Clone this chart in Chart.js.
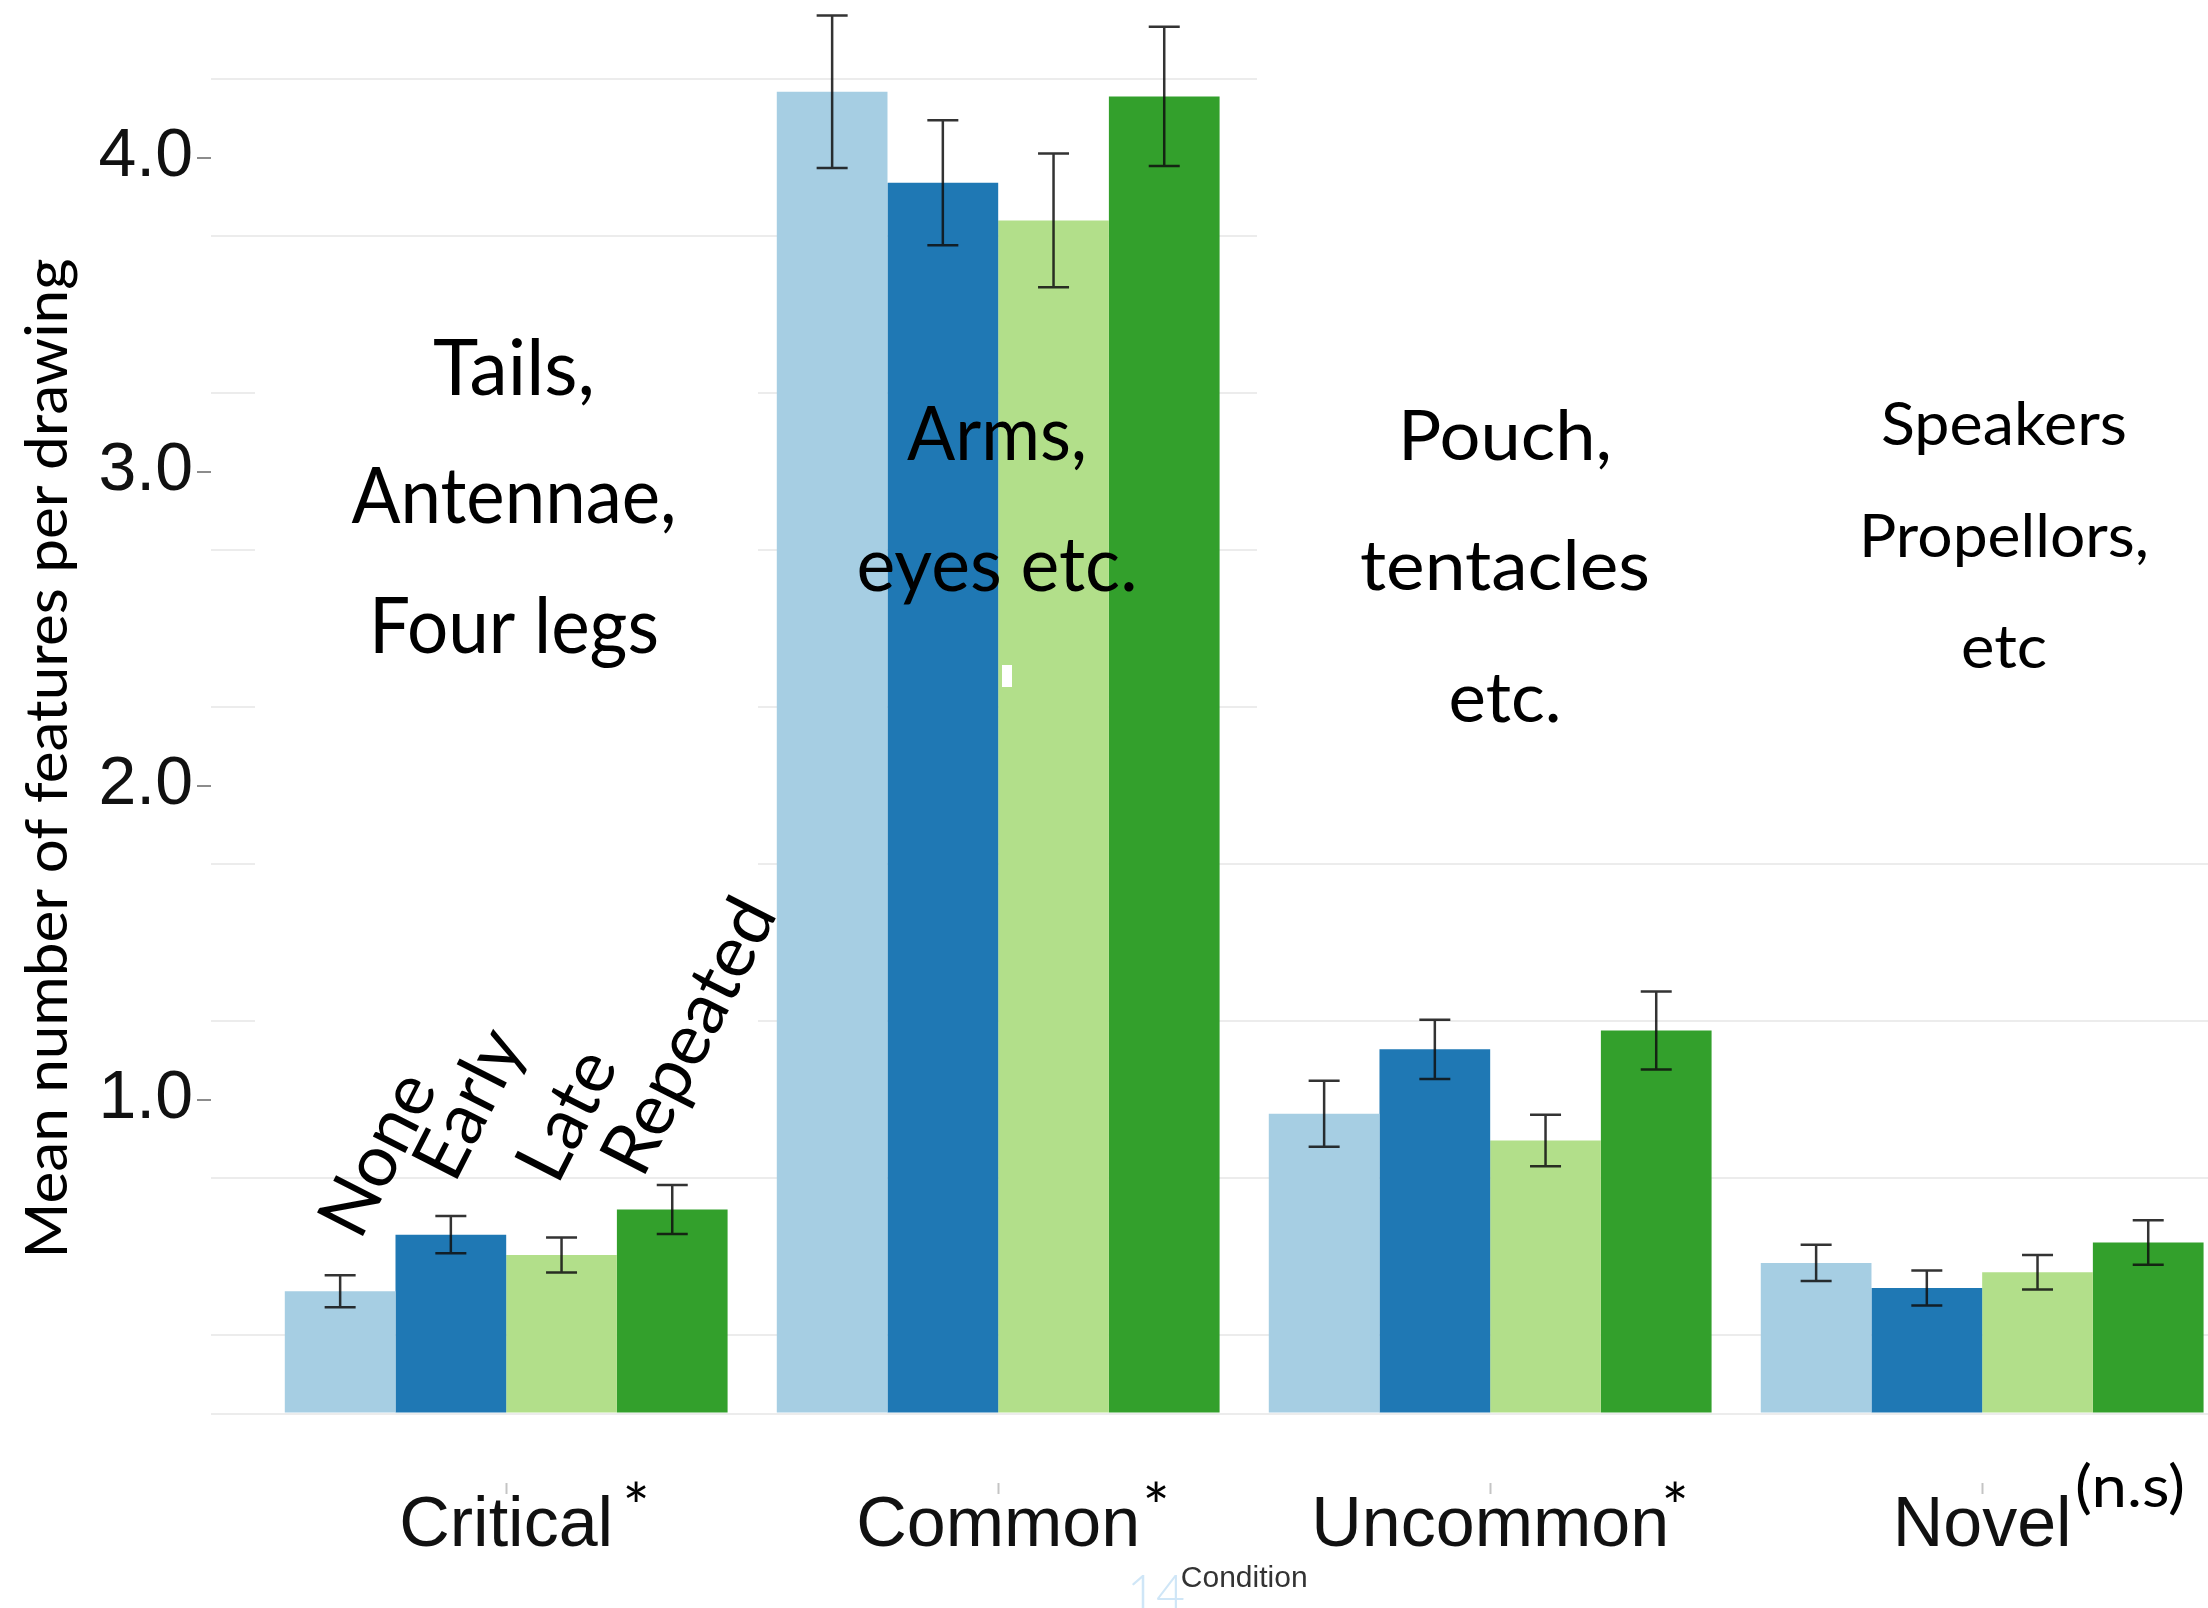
<!DOCTYPE html>
<html>
<head>
<meta charset="utf-8">
<script src="https://cdn.jsdelivr.net/npm/chart.js@4.4.1/dist/chart.umd.min.js"></script>
<style>
  html, body { margin: 0; padding: 0; background: #ffffff; overflow: hidden; }
  canvas { display: block; }
</style>
</head>
<body>
<canvas id="chart" width="2208" height="1608"></canvas>
<script>
// Feature categories on the x axis and the significance mark shown beside each
const categories = ['Critical', 'Common', 'Uncommon', 'Novel'];
const significance = ['*', '*', '*', '(n.s)'];

// Example-timing conditions (one bar per condition in every category)
const conditions = ['None', 'Early', 'Late', 'Repeated'];

// Mean number of features per drawing
const noneMean     = [0.39, 4.21, 0.955, 0.48];
const earlyMean    = [0.57, 3.92, 1.16, 0.40];
const lateMean     = [0.505, 3.80, 0.87, 0.45];
const repeatedMean = [0.65, 4.195, 1.22, 0.545];

// Standard errors (half height of each error bar)
const noneSE     = [0.051, 0.243, 0.105, 0.058];
const earlySE    = [0.059, 0.199, 0.094, 0.056];
const lateSE     = [0.056, 0.213, 0.082, 0.055];
const repeatedSE = [0.078, 0.222, 0.124, 0.071];

// Labelled y ticks and the faint horizontal guide lines
const yTickValues = [1, 2, 3, 4];
const gridValues  = [0, 0.25, 0.75, 1.25, 1.75, 2.25, 2.75, 3.25, 3.75, 4.25];

// Example features written over each category
const featureNotes = [
  ['Tails,', 'Antennae,', 'Four legs'],
  ['Arms,', 'eyes etc.'],
  ['Pouch,', 'tentacles', 'etc.'],
  ['Speakers', 'Propellors,', 'etc']
];

const axisTitle = 'Condition';
const yTitle = 'Mean number of features per drawing';
const pageNumber = '14';

const means = [noneMean, earlyMean, lateMean, repeatedMean];
const errors = [noneSE, earlySE, lateSE, repeatedSE];
const colors = ['#a6cee3', '#1f78b4', '#b2df8a', '#33a02c'];

const datasets = conditions.map((name, d) => ({
  label: name,
  data: categories.map((_, i) => ({ x: i, y: means[d][i] })),
  errors: errors[d],
  backgroundColor: colors[d],
  borderWidth: 0,
  categoryPercentage: 0.9,
  barPercentage: 1.0
}));

const tickStops = [...new Set([...gridValues, ...yTickValues])].sort((a, b) => a - b);

// Text layout for the notes: centre x, font size, and [baseline y, width] per line
const noteLayout = [
  { x: 514,  size: 77, lines: [[395, 162], [523, 325], [653, 290]] },
  { x: 997,  size: 75, lines: [[460, 180], [591, 281]] },
  { x: 1505, size: 70, lines: [[460, 214], [590, 290], [722, 113]] },
  { x: 2004, size: 60, lines: [[445, 246], [557, 290], [668, 86]] }
];
// White backing boxes behind the opaque note text frames [x, y, w, h]
const noteBoxes = [
  [255, 250, 503, 850],
  [1257, 0, 951, 788]
];
const conditionLabelPos = [[380, 1155], [471, 1105], [569, 1116], [691, 1037]];
const NOTE_FONT = 'Lato';

function fitText(ctx, text, x, y, size, width, align) {
  ctx.font = size + 'px ' + NOTE_FONT;
  const w = ctx.measureText(text).width;
  ctx.save();
  ctx.translate(x, y);
  if (width) ctx.scale(width / w, 1);
  ctx.textAlign = align || 'center';
  ctx.textBaseline = 'alphabetic';
  ctx.fillText(text, 0, 0);
  ctx.restore();
}

const noteBoxPlugin = {
  id: 'noteBoxes',
  beforeDatasetsDraw(chart) {
    const { ctx } = chart;
    ctx.save();
    ctx.fillStyle = '#ffffff';
    noteBoxes.forEach(([x, y, w, h]) => ctx.fillRect(x, y, w, h));
    ctx.restore();
  }
};

const errorBarPlugin = {
  id: 'errorBars',
  afterDatasetsDraw(chart) {
    const { ctx } = chart;
    const y = chart.scales.y;
    ctx.save();
    ctx.strokeStyle = 'rgba(15,15,15,0.85)';
    ctx.lineWidth = 2.5;
    chart.data.datasets.forEach((ds, d) => {
      chart.getDatasetMeta(d).data.forEach((bar, i) => {
        const v = ds.data[i].y, e = ds.errors[i];
        const top = y.getPixelForValue(v + e);
        const bot = y.getPixelForValue(v - e);
        const half = 15.5;
        ctx.beginPath();
        ctx.moveTo(bar.x, top); ctx.lineTo(bar.x, bot);
        ctx.moveTo(bar.x - half, top); ctx.lineTo(bar.x + half, top);
        ctx.moveTo(bar.x - half, bot); ctx.lineTo(bar.x + half, bot);
        ctx.stroke();
      });
    });
    ctx.restore();
  }
};

const textPlugin = {
  id: 'notes',
  afterDraw(chart) {
    const { ctx } = chart;
    const x = chart.scales.x;
    ctx.save();
    ctx.fillStyle = '#000000';

    // feature notes
    featureNotes.forEach((lines, k) => {
      const L = noteLayout[k];
      lines.forEach((t, j) => fitText(ctx, t, L.x, L.lines[j][0], L.size, L.lines[j][1]));
    });

    // small white patch inside the Late bar of Common
    ctx.fillStyle = '#ffffff';
    ctx.fillRect(1002, 665, 10, 22);
    ctx.fillStyle = '#000000';

    // condition names written diagonally above the Critical bars
    ctx.font = '72px ' + NOTE_FONT;
    conditions.forEach((name, d) => {
      const [cx, cy] = conditionLabelPos[d];
      ctx.save();
      ctx.translate(cx, cy);
      ctx.rotate(-63 * Math.PI / 180);
      ctx.textAlign = 'center';
      ctx.textBaseline = 'alphabetic';
      ctx.fillText(name, 0, 0.3 * 72);
      ctx.restore();
    });

    // y axis title
    ctx.save();
    ctx.translate(67, 758.5);
    ctx.rotate(-Math.PI / 2);
    fitText(ctx, yTitle, 0, 0, 58, 1000);
    ctx.restore();

    // significance marks beside the category labels
    const markX = [636, 1156, 1675];
    significance.forEach((m, i) => {
      if (m === '*') {
        fitText(ctx, m, markX[i], 1530, 64, null);
      } else {
        fitText(ctx, m, 2075, 1507, 58, 110, 'left');
      }
    });

    // x axis title, centred on the full panel
    ctx.font = '30px "Liberation Sans"';
    ctx.fillStyle = '#333333';
    ctx.textAlign = 'left';
    ctx.textBaseline = 'alphabetic';
    const tw = ctx.measureText(axisTitle).width;
    ctx.fillText(axisTitle, x.getPixelForValue(1.5) - tw / 2, 1587);

    // page number
    ctx.font = '300 50px Lato';
    ctx.fillStyle = '#cfe6f7';
    ctx.fillText(pageNumber, 1127, 1610);
    ctx.restore();
  }
};

new Chart(document.getElementById('chart'), {
  type: 'bar',
  data: { datasets },
  plugins: [noteBoxPlugin, errorBarPlugin, textPlugin],
  options: {
    responsive: false,
    animation: false,
    devicePixelRatio: 1,
    layout: { padding: 0 },
    plugins: { legend: { display: false }, tooltip: { enabled: false } },
    scales: {
      x: {
        type: 'linear',
        min: -0.6,
        max: 3.459,
        offset: false,
        afterBuildTicks(s) { s.ticks = categories.map((_, i) => ({ value: i })); },
        afterFit(s) { s.height = 125; s.paddingLeft = 0; s.paddingRight = 0; },
        grid: { drawOnChartArea: false, offset: false, tickLength: 11, tickColor: '#c4c4c4', tickWidth: 2 },
        border: { display: false },
        ticks: {
          autoSkip: false, maxRotation: 0, minRotation: 0, padding: 0,
          color: '#111111',
          font: { family: 'Liberation Sans', size: 70, lineHeight: 0.94 },
          callback: v => categories[v] ?? ''
        }
      },
      y: {
        type: 'linear',
        min: -0.221,
        max: 4.502,
        afterBuildTicks(s) { s.ticks = tickStops.map(v => ({ value: v })); },
        afterFit(s) { s.width = 211; s.paddingTop = 0; s.paddingBottom = 0; },
        grid: {
          color: c => gridValues.includes(c.tick.value) ? '#ececec' : 'rgba(0,0,0,0)',
          lineWidth: 2,
          tickColor: c => yTickValues.includes(c.tick.value) ? '#8c8c8c' : 'rgba(0,0,0,0)',
          tickLength: 14,
          tickWidth: 2
        },
        border: { display: false },
        ticks: {
          autoSkip: false, padding: 4,
          color: '#111111',
          font: { family: 'Liberation Sans', size: 68 },
          callback: v => yTickValues.includes(v) ? v.toFixed(1) : ''
        }
      }
    }
  }
});
</script>
</body>
</html>
